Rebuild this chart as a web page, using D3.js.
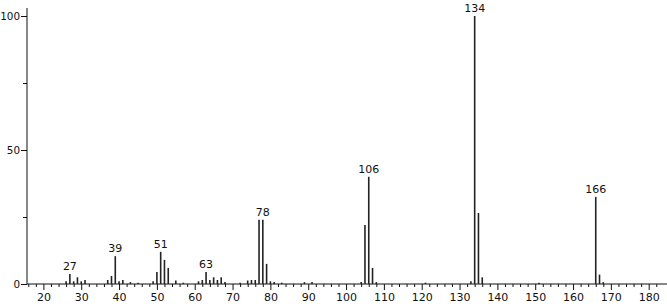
<!DOCTYPE html>
<html>
<head>
<meta charset="utf-8">
<title>Mass spectrum</title>
<script src="https://cdn.jsdelivr.net/npm/d3@7"></script>
<style>
body { margin:0; background:#fff; }
text { font-family: "DejaVu Sans", sans-serif; font-size: 11px; fill:#111; }
</style>
</head>
<body>
<svg id="chart" width="667" height="306"></svg>
<script>
// m/z and relative intensity
var mz = [26,27,28,29,30,31,37,38,39,40,41,43,45,49,50,51,52,53,55,57,
          61,62,63,64,65,66,67,68,72,74,75,76,77,78,79,80,81,83,89,91,
          104,105,106,107,108,121,133,134,135,136,151,166,167,168];
var intensity = [1,3.7,1,2.5,1,1.5,1.5,3,10.4,1,1.5,0.7,0.5,1,4.5,12,9,6,1.3,0.5,
          1,1.5,4.5,1.5,2.5,1.5,2.5,0.7,0.5,1.3,1.5,1.5,24,24,7.5,1,0.7,0.5,0.7,0.7,
          0.7,22,40,6,0.7,0.5,1,100,26.5,2.5,0.5,32.5,3.5,0.7];
var labelled = [27,39,51,63,78,106,134,166];
var xTicks = [20,30,40,50,60,70,80,90,100,110,120,130,140,150,160,170,180];
var yTicks = [0,50,100];

var svg = d3.select("#chart");
var x = d3.scaleLinear().domain([20,180]).range([43.4,648.7]);
var y = d3.scaleLinear().domain([0,100]).range([284,16]);
var x0 = x.invert(27), x1 = x.invert(667);

// axes
var xa = svg.append("g").attr("transform","translate(0,284)")
	.call(d3.axisBottom(x).tickValues(xTicks).tickSize(6).tickPadding(3).tickFormat(d3.format("d")));
xa.select(".domain").remove();
svg.append("g").attr("transform","translate(0,284)")
	.call(d3.axisBottom(x).tickValues(d3.range(16,184,2).filter(function(d){ return d%10; })).tickSize(3).tickFormat(""))
	.select(".domain").remove();
svg.append("line").attr("x1",x(x0)).attr("x2",x(x1)).attr("y1",284).attr("y2",284)
	.attr("stroke","#111");

var ya = svg.append("g").attr("transform","translate(27,0)")
	.call(d3.axisLeft(y).tickValues(yTicks).tickSize(6).tickPadding(1));
ya.select(".domain").remove();
svg.append("g").attr("transform","translate(27,0)")
	.call(d3.axisLeft(y).tickValues([25,75]).tickSize(4).tickFormat(""))
	.select(".domain").remove();
svg.append("line").attr("x1",27).attr("x2",27).attr("y1",284).attr("y2",8).attr("stroke","#111");

svg.selectAll(".tick line").attr("stroke","#111");
svg.selectAll(".tick text").style("font-family","DejaVu Sans").style("font-size","11px").attr("fill","#111");
ya.selectAll(".tick text").style("font-size","10.4px");

// peaks
svg.selectAll("line.peak").data(mz).enter().append("line")
	.attr("class","peak")
	.attr("x1",function(d){ return x(d); })
	.attr("x2",function(d){ return x(d); })
	.attr("y1",284)
	.attr("y2",function(d,i){ return y(intensity[i]); })
	.attr("stroke","#222").attr("stroke-width",1.6);

svg.selectAll("text.lbl").data(labelled).enter().append("text")
	.attr("class","lbl")
	.attr("x",function(d){ return x(d); })
	.attr("y",function(d){ return y(intensity[mz.indexOf(d)]) - 4; })
	.attr("text-anchor","middle")
	.text(function(d){ return d; });
</script>
</body>
</html>
